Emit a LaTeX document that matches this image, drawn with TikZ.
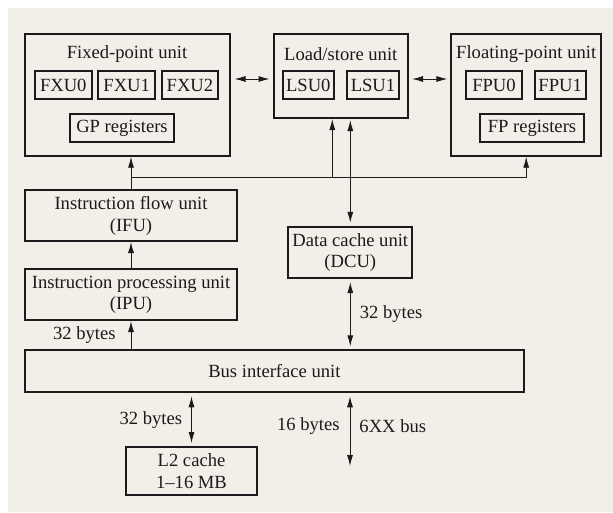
\documentclass[tikz,border=0pt]{standalone}
\usepackage{fontspec}
\setmainfont{Liberation Serif}
\usepackage{xcolor}
\usetikzlibrary{arrows.meta,positioning,calc}
\definecolor{panel}{HTML}{F2EFE9}
\definecolor{ink}{HTML}{1C1A1A}

\begin{document}
\begin{tikzpicture}[x=1pt,y=-1pt,font=\fontsize{18.6}{21.7}\selectfont,text=ink,>={Latex[length=11pt,width=6pt]}]
\tikzstyle{blk}=[draw=ink,line width=2pt,inner sep=0pt,align=center]
\tikzstyle{sub}=[blk,minimum height=28pt]
\tikzstyle{lnk}=[draw=ink,line width=0.9pt]
\tikzstyle{lbl}=[inner sep=0pt]
\useasboundingbox (0,0) rectangle (613,512);
\fill[panel] (8,8) rectangle (613,512);
% execution units
\node[blk,minimum width=205pt,minimum height=121.4pt] (fx) at (127,95) {};
\node[blk,minimum width=134.5pt,minimum height=83.7pt] (ls) at (340.8,76.2) {};
\node[blk,minimum width=149.6pt,minimum height=121.4pt] (fp) at (526.2,95) {};
\node (fxt) at ($(fx.north)+(0,21)$) {Fixed-point unit};
\node (lst) at ($(ls.north)+(0,21)$) {Load/store unit};
\node (fpt) at ($(fp.north)+(0,21)$) {Floating-point unit};
\node[sub,minimum width=56.6pt] (fxu0) at (63.3,85) {FXU0};
\node[sub,minimum width=57.4pt,right=4.4pt of fxu0] (fxu1) {FXU1};
\node[sub,minimum width=56.7pt,right=4.2pt of fxu1] (fxu2) {FXU2};
\node[sub,minimum width=103.5pt] (gpr) at (122,128.3) {GP registers};
\node[sub,minimum width=51.5pt] (lsu0) at (308.3,85) {LSU0};
\node[sub,minimum width=51.1pt,right=11.4pt of lsu0] (lsu1) {LSU1};
\node[sub,minimum width=55.5pt] (fpu0) at (494,85) {FPU0};
\node[sub,minimum width=50.8pt,right=11pt of fpu0] (fpu1) {FPU1};
\node[sub,minimum width=104pt] (fpr) at (532,128.3) {FP registers};
% instruction side, data cache, bus
\node[blk,minimum width=211.5pt,minimum height=50.7pt] (ifu) at (131,215.7) {Instruction flow unit\\(IFU)};
\node[blk,minimum width=211.5pt,minimum height=50.7pt] (ipu) at (131,294.7) {Instruction processing unit\\(IPU)};
\node[blk,minimum width=123.9pt,minimum height=51.3pt] (dcu) at (350.3,252.4) {Data cache unit\\(DCU)};
\node[blk,minimum width=498.4pt,minimum height=42pt] (biu) at (274.4,371.3) {Bus interface unit};
\node[blk,minimum width=131pt,minimum height=47.7pt] (l2) at (191.5,470.9) {L2 cache\\1--16 MB};
\coordinate (xbar) at (0,79);
\coordinate (bus) at (0,177.7);
\coordinate (lsin) at (332.3,0);
\coordinate (ext) at (350,466);
\draw[lnk,<->,shorten <=4pt,shorten >=3pt] (fx.east |- xbar) -- (ls.west |- xbar);
\draw[lnk,<->,shorten <=3pt,shorten >=3pt] (ls.east |- xbar) -- (fp.west |- xbar);
\draw[lnk,->] (ifu.north) -- (ifu.north |- fx.south);
\draw[lnk,->] (ifu.north |- bus) -| (fp.south);
\draw[lnk,->] (lsin |- bus) -- (lsin |- ls.south);
\draw[lnk,<->,shorten <=1pt,shorten >=3pt] (ls.south -| dcu.north) -- (dcu.north);
\draw[lnk,->] (ipu.north) -- (ifu.south);
\draw[lnk,->] (biu.north -| ipu.south) -- (ipu.south) node[lbl,midway,left=15pt] (ipub) {32 bytes};
\draw[lnk,<->,shorten <=3pt,shorten >=3pt] (dcu.south) -- (dcu.south |- biu.north) node[lbl,midway,right=9pt] (dcub) {32 bytes};
\draw[lnk,<->,shorten <=3pt,shorten >=3pt] (biu.south -| l2.north) -- (l2.north) node[lbl,midway,left=9pt] (l2b) {32 bytes};
\draw[lnk,<->,shorten <=3pt] (biu.south -| ext) -- (ext) node[lbl,pos=0.45,left=10pt] (extb) {16 bytes} node[lbl,pos=0.45,right=9pt] (extn) {6XX bus};
\end{tikzpicture}
\end{document}
